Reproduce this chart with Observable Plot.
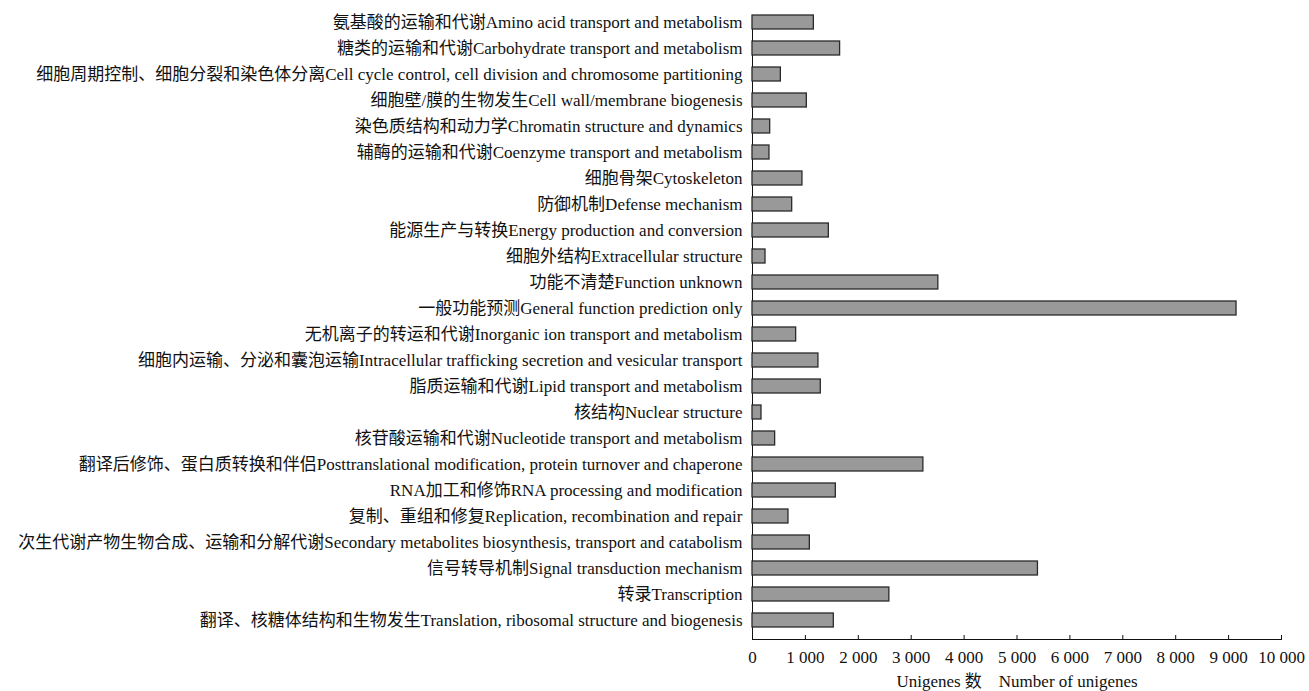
<!DOCTYPE html>
<html>
<head>
<meta charset="utf-8">
<script src="https://cdn.jsdelivr.net/npm/d3@7"></script>
<script src="https://cdn.jsdelivr.net/npm/@observablehq/plot@0.6"></script>
<style>
  html, body { margin: 0; padding: 0; background: #fff; }
  #chart svg { display: block; }
</style>
</head>
<body>
<div id="chart"></div>
<script>
// COG functional categories (Chinese name + English name), top to bottom
const cnNames = [
  "氨基酸的运输和代谢", "糖类的运输和代谢", "细胞周期控制、细胞分裂和染色体分离",
  "细胞壁/膜的生物发生", "染色质结构和动力学", "辅酶的运输和代谢", "细胞骨架",
  "防御机制", "能源生产与转换", "细胞外结构", "功能不清楚", "一般功能预测",
  "无机离子的转运和代谢", "细胞内运输、分泌和囊泡运输", "脂质运输和代谢", "核结构",
  "核苷酸运输和代谢", "翻译后修饰、蛋白质转换和伴侣", "RNA加工和修饰",
  "复制、重组和修复", "次生代谢产物生物合成、运输和分解代谢", "信号转导机制",
  "转录", "翻译、核糖体结构和生物发生"
];
const enNames = [
  "Amino acid transport and metabolism", "Carbohydrate transport and metabolism",
  "Cell cycle control, cell division and chromosome partitioning",
  "Cell wall/membrane biogenesis", "Chromatin structure and dynamics",
  "Coenzyme transport and metabolism", "Cytoskeleton", "Defense mechanism",
  "Energy production and conversion", "Extracellular structure", "Function unknown",
  "General function prediction only", "Inorganic ion transport and metabolism",
  "Intracellular trafficking secretion and vesicular transport",
  "Lipid transport and metabolism", "Nuclear structure",
  "Nucleotide transport and metabolism",
  "Posttranslational modification, protein turnover and chaperone",
  "RNA processing and modification", "Replication, recombination and repair",
  "Secondary metabolites biosynthesis, transport and catabolism",
  "Signal transduction mechanism", "Transcription",
  "Translation, ribosomal structure and biogenesis"
];
// Number of unigenes per category
const counts = [
  1160, 1656, 536, 1027, 334, 321, 944, 750, 1443, 246, 3513, 9150,
  825, 1246, 1291, 170, 428, 3230, 1575, 680, 1084, 5396, 2587, 1537
];
const xTicks = [0, 1000, 2000, 3000, 4000, 5000, 6000, 7000, 8000, 9000, 10000];
const xLabel = "Unigenes 数\u3000Number of unigenes";

const categories = cnNames.map((c, i) => c + enNames[i]);
const rows = categories.map((name, i) => ({name, count: counts[i]}));

const fmt = d => d3.format(",")(d).replace(/,/g, " ");

const chart = Plot.plot({
  width: 1309,
  height: 691,
  marginLeft: 752,
  marginRight: 28,
  marginTop: 15,
  marginBottom: 52,
  style: {
    fontFamily: "'Liberation Serif', 'Times New Roman', 'Noto Sans CJK SC', serif",
    fontSize: "17px",
    color: "#111",
    background: "#fff"
  },
  x: {
    domain: [0, 10000],
    ticks: xTicks,
    tickFormat: fmt,
    tickSize: -4,
    tickPadding: 15,
    line: true,
    label: xLabel,
    labelAnchor: "center",
    labelArrow: "none",
    labelOffset: 47
  },
  y: {
    domain: categories,
    paddingInner: 0.446,
    paddingOuter: 0.136,
    align: 0,
    tickSize: 0,
    tickPadding: 10,
    line: true,
    label: null
  },
  marks: [
    Plot.barX(rows, {
      y: "name",
      x: "count",
      fill: "#999999",
      stroke: "#2a2a2a",
      strokeWidth: 1.3
    })
  ]
});

document.getElementById("chart").appendChild(chart);
</script>
</body>
</html>
